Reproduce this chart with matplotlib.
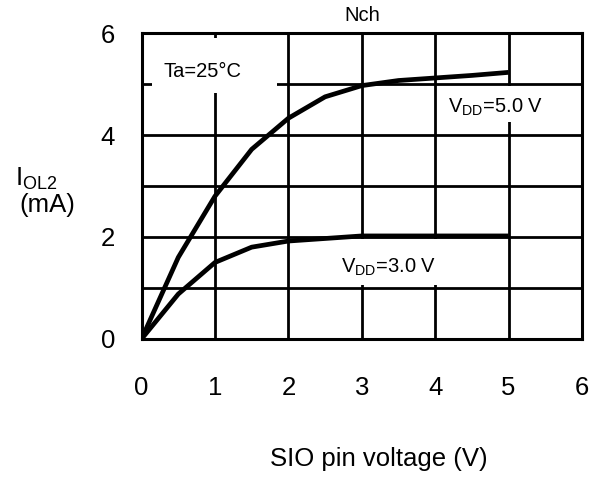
"""Output current vs SIO pin voltage (Nch) for two supply voltages."""
import matplotlib
matplotlib.use('Agg')
import matplotlib.pyplot as plt
from matplotlib.patches import Rectangle

plt.rcParams['font.family'] = ['Liberation Sans', 'DejaVu Sans']
plt.rcParams['mathtext.fontset'] = 'custom'
plt.rcParams['mathtext.rm'] = 'Liberation Sans'

# curve data
v_5 = [0, 0.5, 1.0, 1.5, 2.0, 2.5, 3.0, 3.5, 4.0, 4.5, 5.0]
i_5 = [0, 1.6, 2.8, 3.72, 4.33, 4.75, 4.97, 5.07, 5.12, 5.17, 5.23]
v_3 = [0, 0.5, 1.0, 1.5, 2.0, 2.5, 3.0, 4.0, 5.0]
i_3 = [0, 0.88, 1.5, 1.8, 1.92, 1.97, 2.02, 2.02, 2.02]

x_ticks = [0, 1, 2, 3, 4, 5, 6]
y_ticks = [0, 2, 4, 6]
y_minor = [1, 3, 5]


def main():
    fig = plt.figure(figsize=(6, 4.8), dpi=100)
    ax = fig.add_axes([0.236, 0.294, 0.734, 0.637])

    ax.set_xlim(0, 6)
    ax.set_ylim(0, 6)
    ax.set_xticks(x_ticks)
    ax.set_yticks(y_ticks)
    ax.set_yticks(y_minor, minor=True)
    ax.tick_params(which='both', length=0, labelsize=18.5)
    ax.tick_params(axis='x', pad=27)
    ax.tick_params(axis='y', pad=19)
    ax.grid(True, which='both', color='black', linewidth=2)
    ax.set_axisbelow(True)
    for s in ax.spines.values():
        s.set_linewidth(2.2)

    # white patches behind the labels that cut through the grid
    for (x0, y0, w, h) in [(0.14, 4.82, 1.70, 1.08),
                           (4.07, 4.25, 1.45, 0.72),
                           (2.63, 1.06, 1.50, 0.90)]:
        ax.add_patch(Rectangle((x0, y0), w, h, facecolor='white',
                               edgecolor='none', zorder=1))

    ax.plot(v_5, i_5, color='black', linewidth=3.4, zorder=3,
            solid_joinstyle='round', solid_capstyle='butt')
    ax.plot(v_3, i_3, color='black', linewidth=3.4, zorder=3,
            solid_joinstyle='round', solid_capstyle='butt')

    ax.text(0.835, 5.14, 'Ta=25°C', fontsize=14.5, ha='center',
            va='baseline', zorder=4)
    ax.text(4.82, 4.43, r'V$_{\mathregular{DD}}$=5.0 V', fontsize=14.5,
            ha='center', va='baseline', zorder=4)
    ax.text(3.36, 1.29, r'V$_{\mathregular{DD}}$=3.0 V', fontsize=14.5,
            ha='center', va='baseline', zorder=4)

    ax.set_title('Nch', fontsize=14.5, pad=9)

    fig.text(379 / 600, 1 - 459 / 480, 'SIO pin voltage (V)', fontsize=18.5,
             ha='center', va='center')
    fig.text(15 / 600, 1 - 185 / 480, r'I$_{\mathregular{OL2}}$', fontsize=18.5,
             ha='left', va='baseline')
    fig.text(19 / 600, 1 - 212 / 480, '(mA)', fontsize=18.5,
             ha='left', va='baseline')

    fig.savefig('out.png', dpi=100)


if __name__ == '__main__':
    main()
